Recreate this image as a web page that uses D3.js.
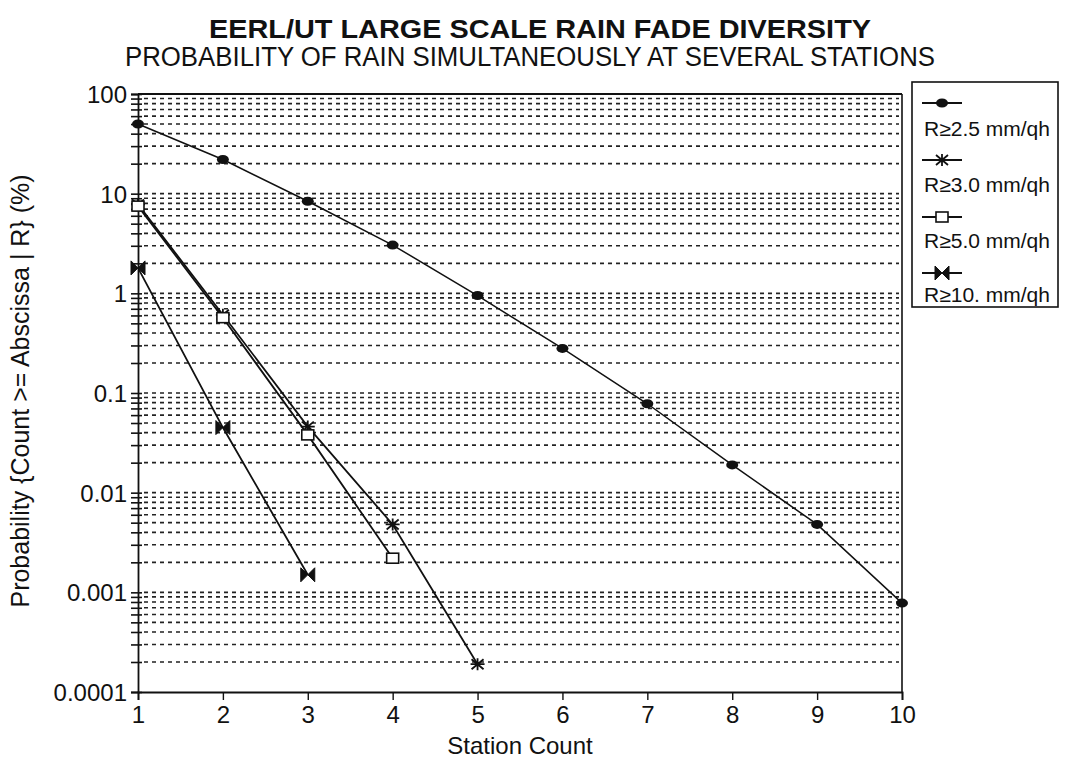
<!DOCTYPE html>
<html><head><meta charset="utf-8">
<script src="https://cdn.jsdelivr.net/npm/d3@7"></script>
<style>
html,body{margin:0;padding:0;background:#fff;}
text{font-family:"Liberation Sans",Arial,Helvetica,sans-serif;fill:#111;}
</style></head><body>
<svg id="chart" width="1067" height="762"></svg>
<script>
// ---- data ----
const stationCounts = [1,2,3,4,5,6,7,8,9,10];
const r25 = [50, 22, 8.4, 3.05, 0.95, 0.28, 0.078, 0.019, 0.0048, 0.00078];
const r30 = [7.8, 0.61, 0.046, 0.0048, 0.00019];
const r50 = [7.5, 0.57, 0.038, 0.0022];
const r10 = [1.8, 0.045, 0.0015];
const seriesNames = ["R\u22652.5 mm/qh","R\u22653.0 mm/qh","R\u22655.0 mm/qh","R\u226510. mm/qh"];
const yTickLabels = ["100","10","1","0.1","0.01","0.001","0.0001"];
const xTickLabels = ["1","2","3","4","5","6","7","8","9","10"];
const titleText = "EERL/UT LARGE SCALE RAIN FADE DIVERSITY";
const subtitleText = "PROBABILITY OF RAIN SIMULTANEOUSLY AT SEVERAL STATIONS";
const xTitle = "Station Count";
const yTitle = "Probability {Count >= Abscissa | R} (%)";

const svg = d3.select("#chart");
const L = 138, R = 902, T = 94, B = 692;
const x = d3.scaleLinear().domain([1,10]).range([L,R]);
const y = d3.scaleLog().domain([0.0001,100]).range([B,T]);

// titles
svg.append("text").attr("x",540).attr("y",38).attr("text-anchor","middle")
  .style("font-weight","bold").style("font-size","26px")
  .attr("textLength",662).attr("lengthAdjust","spacingAndGlyphs").text(titleText);
svg.append("text").attr("x",530).attr("y",66).attr("text-anchor","middle")
  .style("font-size","27px")
  .attr("textLength",810).attr("lengthAdjust","spacingAndGlyphs").text(subtitleText);

// grid values (minor + decades)
const gridVals = [];
for (let e=-4; e<2; e++) for (let m=1; m<=9; m++) gridVals.push(m*Math.pow(10,e));
gridVals.push(100);

const grid = svg.append("g");
grid.selectAll("line.g").data(gridVals.filter(v=>v>0.0001 && v<100)).enter().append("line")
  .attr("x1",L+6).attr("x2",R-3).attr("y1",d=>y(d)).attr("y2",d=>y(d))
  .attr("stroke","#222").attr("stroke-width",1.6).attr("stroke-dasharray","4,4");

// left axis with minor ticks
const decades = [100,10,1,0.1,0.01,0.001,0.0001];
const yAxis = d3.axisLeft(y).tickValues(gridVals).tickSize(7).tickPadding(4)
  .tickFormat(d => { const i = decades.findIndex(v=>Math.abs(v-d)/v<1e-6); return i>=0 ? yTickLabels[i] : ""; });
const ga = svg.append("g").attr("transform",`translate(${L},0)`).call(yAxis);
ga.select(".domain").attr("stroke","#111").attr("stroke-width",1.8);
ga.selectAll(".tick line").attr("stroke","#111").attr("stroke-width",1.6).attr("x2",-7).attr("x1",4);
ga.selectAll(".tick text").style("font-size","24px").attr("fill","#111").attr("dy","0.35em");

// bottom axis
const xAxis = d3.axisBottom(x).tickValues(stationCounts).tickSize(8).tickPadding(6)
  .tickFormat((d,i)=>xTickLabels[i]);
const gx = svg.append("g").attr("transform",`translate(0,${B})`).call(xAxis);
gx.select(".domain").attr("stroke","#111").attr("stroke-width",1.8);
gx.selectAll(".tick line").attr("stroke","#111").attr("stroke-width",1.4);
gx.selectAll(".tick text").style("font-size","24px").attr("fill","#111");

// top & right borders
svg.append("line").attr("x1",L).attr("x2",R).attr("y1",T).attr("y2",T).attr("stroke","#111").attr("stroke-width",1.8);
svg.append("line").attr("x1",R).attr("x2",R).attr("y1",T).attr("y2",B).attr("stroke","#111").attr("stroke-width",1.6);

// axis titles
svg.append("text").attr("x",(L+R)/2).attr("y",754).attr("text-anchor","middle").style("font-size","24px").text(xTitle);
svg.append("text").attr("transform","translate(29,391) rotate(-90)").attr("text-anchor","middle").style("font-size","25px").text(yTitle);

// series
const series = [r25, r30, r50, r10];
const line = d3.line().x((d,i)=>x(stationCounts[i])).y(d=>y(d));
series.forEach((s,k)=>{
  svg.append("path").datum(s).attr("d",line).attr("fill","none").attr("stroke","#111")
    .attr("stroke-width", k===0 ? 1.5 : 1.8);
});

function marker(g, k){
  if(k===0){ g.append("ellipse").attr("rx",6).attr("ry",4.5).attr("fill","#111"); }
  else if(k===1){ g.append("path").attr("d","M-6,-5L6,5M-6,5L6,-5M0,-6L0,6M-7,0L7,0").attr("stroke","#111").attr("stroke-width",1.8).attr("fill","none"); }
  else if(k===2){ g.append("rect").attr("x",-6).attr("y",-5).attr("width",12).attr("height",10).attr("fill","#fff").attr("stroke","#111").attr("stroke-width",1.6); }
  else { g.append("path").attr("d","M-7,-7L7,7L7,-7L-7,7Z").attr("fill","#111").attr("stroke","#111").attr("stroke-width",1); }
}
series.forEach((s,k)=>{
  s.forEach((v,i)=>{
    const g = svg.append("g").attr("transform",`translate(${x(stationCounts[i])},${y(v)})`);
    marker(g,k);
  });
});

// legend
const lg = svg.append("g");
lg.append("rect").attr("x",912).attr("y",82).attr("width",146).attr("height",225).attr("fill","#fff").attr("stroke","#111").attr("stroke-width",1.6);
const lineYs = [103,160,217,273], textYs = [136,192,248,302];
seriesNames.forEach((n,k)=>{
  lg.append("line").attr("x1",922).attr("x2",962).attr("y1",lineYs[k]).attr("y2",lineYs[k]).attr("stroke","#111").attr("stroke-width",1.8);
  marker(lg.append("g").attr("transform",`translate(942,${lineYs[k]})`),k);
  lg.append("text").attr("x",924).attr("y",textYs[k]).style("font-size","20px")
    .attr("textLength",126).attr("lengthAdjust","spacingAndGlyphs").text(n);
});
</script></body></html>
